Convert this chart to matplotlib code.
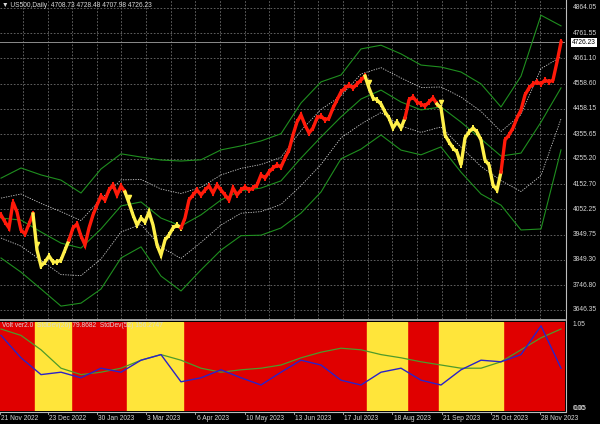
import numpy as np
import matplotlib.pyplot as plt

# closing prices, one point per ~2 daily bars
close = [4029.4, 4001.2, 3977.0, 4081.8, 4041.5, 3968.9, 3952.8, 3993.1, 4033.5,
         3888.3, 3823.8, 3839.9, 3864.1, 3839.9, 3839.9, 3848.0, 3888.3, 3928.6,
         3977.0, 3993.1, 3944.7, 3908.5, 3977.0, 4029.4, 4069.7, 4106.0, 4089.9, 4130.2, 4150.4, 4110.1, 4146.4, 4122.2,
         4077.8, 4029.4, 3989.1, 4017.3, 4001.2, 4041.5, 3989.1, 3908.5, 3868.2, 3928.6, 3948.8, 3977.0, 3989.1, 3977.0,
         4017.3, 4089.9, 4110.1, 4130.2, 4110.1, 4130.2, 4146.4, 4118.1, 4150.4, 4130.2, 4110.1, 4089.9, 4138.3, 4110.1,
         4130.2, 4142.3, 4130.2, 4138.3, 4150.4, 4190.7, 4178.6, 4202.9, 4219.0, 4231.0, 4223.0, 4259.2, 4291.5,
         4352.0, 4404.4, 4432.6, 4392.3, 4360.0, 4380.2, 4420.5, 4428.6, 4412.5, 4420.5, 4460.8, 4493.1, 4525.4,
         4541.5, 4553.6, 4541.5, 4557.6, 4573.7, 4589.9,
         4541.5, 4501.2, 4493.1, 4477.0, 4444.7, 4420.5, 4380.2, 4404.4, 4380.2, 4420.5,
         4493.1, 4505.2, 4485.0, 4477.0, 4468.9, 4485.0, 4501.2, 4477.0,
         4460.8, 4352.0, 4323.8, 4299.6, 4283.4, 4231.0, 4339.9, 4364.1, 4380.2, 4364.1, 4331.8, 4251.2, 4231.0,
         4150.4, 4130.2, 4202.9,
         4331.8, 4352.0, 4380.2, 4420.5, 4452.8, 4513.3, 4541.5, 4557.6, 4565.7, 4557.6, 4573.7, 4565.7, 4573.7,
         4646.3, 4726.23]
# regime runs (colour, number of points)
runs = [("r", 9), ("y", 9), ("r", 14), ("y", 14), ("r", 46), ("y", 10), ("r", 8), ("y", 16), ("r", 15)]

# bollinger middle line and 2-sigma width, one value every 5 points
bb_mid = [4017, 4009, 3961, 3916, 3896, 3973, 4066, 4082, 4017, 3985, 4030, 4090, 4127, 4138, 4167,
          4259, 4344, 4425, 4497, 4533, 4485, 4453, 4465, 4404, 4336, 4267, 4279, 4404, 4542]
bb_w = [161, 210, 230, 254, 222, 242, 210, 181, 234, 262, 222, 202, 181, 190, 190,
        222, 222, 169, 202, 181, 194, 181, 161, 202, 222, 198, 310, 431, 250]

# oscillator panel, one value every 5 points
volt_blue = [0.92, 0.64, 0.43, 0.46, 0.39, 0.51, 0.46, 0.61, 0.68, 0.34, 0.39, 0.49, 0.39, 0.30, 0.46,
             0.61, 0.55, 0.36, 0.30, 0.46, 0.51, 0.36, 0.30, 0.49, 0.61, 0.59, 0.68, 1.04, 0.51]
volt_green = [1.0, 0.92, 0.74, 0.51, 0.43, 0.46, 0.51, 0.61, 0.68, 0.61, 0.51, 0.46, 0.49, 0.51, 0.55,
              0.64, 0.71, 0.76, 0.74, 0.68, 0.64, 0.59, 0.55, 0.51, 0.51, 0.59, 0.74, 0.89, 1.0]

price_ticks = [4864.05, 4761.55, 4661.10, 4558.60, 4458.15, 4355.65, 4255.20, 4152.70,
               4052.25, 3949.75, 3849.30, 3746.80, 3646.35]
date_labels = ["21 Nov 2022", "23 Dec 2022", "30 Jan 2023", "3 Mar 2023", "6 Apr 2023", "10 May 2023",
               "13 Jun 2023", "17 Jul 2023", "18 Aug 2023", "21 Sep 2023", "25 Oct 2023", "28 Nov 2023"]
last_price = 4726.23

RED = "#ff1a0a"
YEL = "#fff04a"
GRID = "#6e6e6e"
TXT = "#d8d8d8"
plt.rcParams['font.family'] = ['Liberation Sans', 'DejaVu Sans']

W, H = 600, 424
fig = plt.figure(figsize=(6, 4.24), dpi=100, facecolor="black")
X1 = 565
ax = fig.add_axes([0, 1 - 319 / H, X1 / W, 319 / H], facecolor="black")
ax2 = fig.add_axes([0, 1 - 411 / H, X1 / W, 89 / H], facecolor="black")

step = 4.0  # px between points
xs = np.arange(len(close)) * step + 1
xb = np.arange(len(bb_mid)) * step * 5 + 1

grid_x = 23 + 24.62 * np.arange(23)
for a in (ax, ax2):
    a.set_xlim(0, X1)
    for gx in grid_x:
        a.axvline(gx, color=GRID, lw=0.6, ls=(0, (2, 2)), zorder=0)
    a.set_xticks([])
    a.set_yticks([])
    for s in a.spines.values():
        s.set_visible(False)

# main panel
ax.set_ylim(3610.0, 4896.3)
for p in price_ticks:
    ax.axhline(p, color=GRID, lw=0.6, ls=(0, (2, 2)), zorder=0)
    ax.text(X1 + 8, p, f"{p:.2f}", color=TXT, fontsize=4.8, va="center", ha="left", clip_on=False)

mid = np.array(bb_mid)
w = np.array(bb_w)
ax.plot(xb, mid, color="#1f8f1f", lw=0.8, zorder=2)
ax.plot(xb, mid + w, color="#1f8f1f", lw=0.8, zorder=2)
ax.plot(xb, mid - w, color="#1f8f1f", lw=0.8, zorder=2)
ax.plot(xb, mid + w / 2, color="#cfcfcf", lw=0.6, ls=(0, (1.5, 1.5)), zorder=2)
ax.plot(xb, mid - w / 2, color="#cfcfcf", lw=0.6, ls=(0, (1.5, 1.5)), zorder=2)

start = 0
spans = []
for col, n in runs:
    lo = max(start - 1, 0)
    c = RED if col == "r" else YEL
    ax.plot(xs[lo:start + n], close[lo:start + n], color=c, lw=2.4, zorder=3, solid_joinstyle="miter")
    ax.plot(xs[start:start + n], close[start:start + n], ls="none", marker="|", ms=5, mew=1.4, color=c, zorder=3)
    if col == "y":
        spans.append((xs[start] - step / 2, xs[start + n - 1] + step / 2))
        ax.plot(xs[start], close[start] + 25, marker="v", ms=3, color=YEL, zorder=4)
    start += n

ax.axhline(last_price, color="#8c8c8c", lw=0.7, zorder=1)
ax.text(X1 + 7, last_price, f"{last_price:.2f}", color="black", fontsize=4.8, va="center", ha="left",
        clip_on=False, bbox=dict(boxstyle="square,pad=0.15", fc="white", ec="none"))
ax.text(2, 4896.3 - 6 * 4.032, "\u25bc US500,Daily  4708.73 4728.48 4707.98 4726.23", color=TXT,
        fontsize=4.8, va="center", ha="left")

# lower panel
ax2.set_ylim(-0.025, 1.0875)
ax2.axvspan(0, X1, color="#e00000", zorder=1)
for a0, a1 in spans:
    ax2.axvspan(a0, a1, color="#ffe53a", zorder=1.5)
ax2.plot(xb, volt_green, color="#4d9a2a", lw=0.9, zorder=3)
ax2.plot(xb, volt_blue, color="#2b22c8", lw=1.0, zorder=3)
ax2.text(2, 1.04, "Volt ver2.0  StdDev(26) 79.8682  StdDev(52) 156.2747", color=TXT, fontsize=4.8,
         va="center", ha="left", zorder=5)
ax2.text(X1 + 8, 1.05, "1.05", color=TXT, fontsize=4.8, va="center", ha="left", clip_on=False)
ax2.text(X1 + 8, 0.0, "0.00", color=TXT, fontsize=4.8, va="center", ha="left", clip_on=False)
ax2.text(X1 + 9, 0.0, "0.05", color=TXT, fontsize=4.8, va="center", ha="left", clip_on=False)

# frame lines
fig.add_artist(plt.Line2D([0, X1 / W], [1 - 320 / H] * 2, color="#bdbdbd", lw=1.2))
fig.add_artist(plt.Line2D([(X1 + 1) / W] * 2, [1 - 412 / H, 1], color="#bdbdbd", lw=0.8))
fig.add_artist(plt.Line2D([0, X1 / W], [1 - 412 / H] * 2, color="#bdbdbd", lw=0.8))

# date axis
for k, lab in enumerate(date_labels):
    x = 0 if k == 0 else grid_x[2 * k - 1]
    fig.text(x / W + 0.002, 1 - 418 / H, lab, color=TXT, fontsize=4.8, va="center", ha="left")
    fig.add_artist(plt.Line2D([x / W] * 2, [1 - 412 / H, 1 - 414 / H], color="#bdbdbd", lw=0.6))

fig.savefig("out.png", dpi=100, facecolor="black")
